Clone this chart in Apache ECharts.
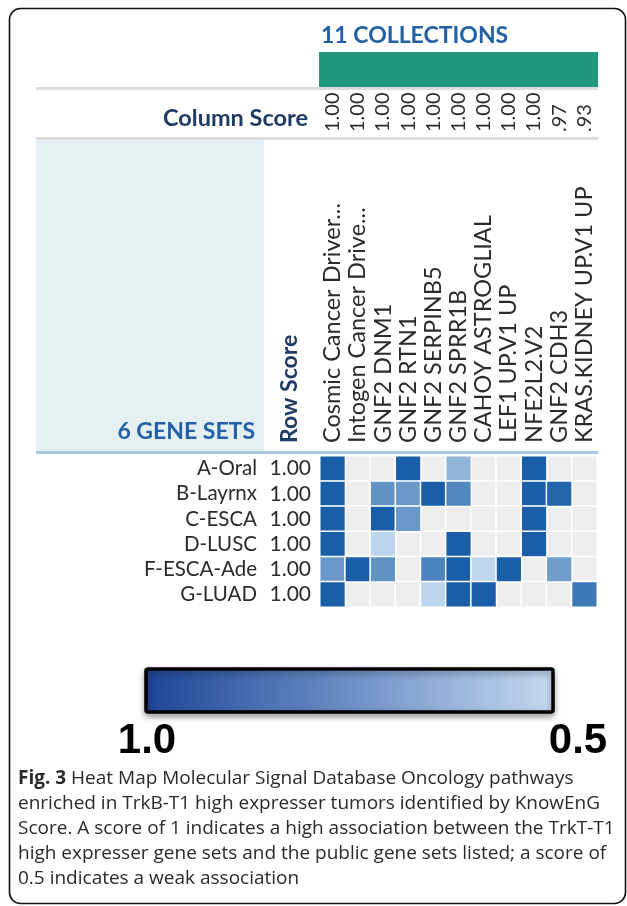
<!DOCTYPE html>
<html>
<head>
<meta charset="utf-8">
<title>Heat Map</title>
<script src="https://cdn.jsdelivr.net/npm/echarts@6/dist/echarts.min.js"></script>
<style>
  html, body { margin: 0; padding: 0; background: #fff; }
  #chart { width: 627px; height: 906px; }
</style>
</head>
<body>
<div id="chart"></div>
<script type="text/javascript">
  // gene sets (rows) and collections (columns)
  var geneSets = ['A-Oral', 'B-Layrnx', 'C-ESCA', 'D-LUSC', 'F-ESCA-Ade', 'G-LUAD'];
  var rowScores = ['1.00', '1.00', '1.00', '1.00', '1.00', '1.00'];
  var collections = ['Cosmic Cancer Driver...', 'Intogen Cancer Drive...', 'GNF2 DNM1', 'GNF2 RTN1',
    'GNF2 SERPINB5', 'GNF2 SPRR1B', 'CAHOY ASTROGLIAL', 'LEF1 UP.V1 UP', 'NFE2L2.V2',
    'GNF2 CDH3', 'KRAS.KIDNEY UP.V1 UP'];
  var colScores = ['1.00', '1.00', '1.00', '1.00', '1.00', '1.00', '1.00', '1.00', '1.00', '.97', '.93'];

  // one array per gene set, null = no association
  var oral    = [1.00, null, null, 1.00, null, 0.65, null, null, 1.00, null, null];
  var layrnx  = [1.00, null, 0.79, 0.77, 1.00, 0.84, null, null, 1.00, 0.97, null];
  var esca    = [1.00, null, 1.00, 0.77, null, null, null, null, 1.00, null, null];
  var lusc    = [1.00, null, 0.53, null, null, 1.00, null, null, 1.00, null, null];
  var escaAde = [0.77, 1.00, 0.79, null, 0.85, 1.00, 0.52, 1.00, null, 0.75, null];
  var luad    = [1.00, null, null, null, 0.53, 1.00, 1.00, null, null, null, 0.90];
  var rows = [oral, layrnx, esca, lusc, escaAde, luad];

  var cells = [], blank = [];
  rows.forEach(function (r, y) {
    r.forEach(function (v, x) {
      blank.push([x, y, 0]);
      if (v !== null) cells.push([x, y, v]);
    });
  });

  var myChart = echarts.init(document.getElementById('chart'), null, { renderer: 'canvas' });

  var navy = '#1f3b63';
  var blue = '#2360a5';
  var captionFont = '"Open Sans", sans-serif';
  var caption = [
    ' Heat Map Molecular Signal Database Oncology pathways',
    'enriched in TrkB-T1 high expresser tumors identified by KnowEnG',
    'Score. A score of 1 indicates a high association between the TrkT-T1',
    'high expresser gene sets and the public gene sets listed; a score of',
    '0.5 indicates a weak association'
  ];

  var graphics = [
    // outer frame
    { type: 'rect', z: 0, shape: { x: 9.5, y: 8.5, width: 616, height: 895, r: 11 },
      style: { fill: null, stroke: '#111', lineWidth: 1.6 } },
    // header pieces
    { type: 'rect', shape: { x: 319, y: 52, width: 279, height: 35 }, style: { fill: '#21977d' } },
    { type: 'rect', shape: { x: 36, y: 87, width: 562, height: 3 }, style: { fill: '#dcdcdc' } },
    { type: 'rect', shape: { x: 36, y: 137, width: 562, height: 3 }, style: { fill: '#dcdcdc' } },
    { type: 'rect', z: -1, shape: { x: 36, y: 140, width: 228, height: 312 }, style: { fill: '#e4f0f1' } },
    { type: 'rect', shape: { x: 36, y: 451, width: 562, height: 3 }, style: { fill: '#a9c6e3' } },
    { type: 'text', x: 321, y: 36, style: { text: '11 COLLECTIONS', font: 'bold 23px Lato', fill: blue,
      textAlign: 'left', textVerticalAlign: 'middle' } },
    { type: 'text', x: 308, y: 118, style: { text: 'Column Score', font: 'bold 23.5px Lato', fill: navy,
      textAlign: 'right', textVerticalAlign: 'middle' } },
    { type: 'text', x: 255, y: 432, style: { text: '6 GENE SETS', font: 'bold 23px Lato', fill: blue,
      textAlign: 'right', textVerticalAlign: 'middle' } },
    { type: 'text', x: 290, y: 443, rotation: Math.PI / 2, style: { text: 'Row Score', font: 'bold 23px Lato',
      fill: navy, textAlign: 'left', textVerticalAlign: 'middle' } },
    // colour bar
    { type: 'rect', shape: { x: 146, y: 669, width: 407, height: 43, r: 2 },
      style: { fill: new echarts.graphic.LinearGradient(0, 0, 1, 0, [
        { offset: 0, color: '#1d4596' }, { offset: 0.5, color: '#6d8fc6' }, { offset: 1, color: '#c6d9f0' }]),
        stroke: '#000', lineWidth: 3.5, shadowBlur: 6, shadowOffsetY: 3, shadowColor: 'rgba(0,0,0,0.35)' } },
    { type: 'text', x: 147, y: 741, style: { text: '1.0', font: 'bold 42px "Liberation Sans"', fill: '#000',
      textAlign: 'center', textVerticalAlign: 'middle' } },
    { type: 'text', x: 578, y: 741, style: { text: '0.5', font: 'bold 42px "Liberation Sans"', fill: '#000',
      textAlign: 'center', textVerticalAlign: 'middle' } }
  ];
  caption.forEach(function (line, i) {
    graphics.push({ type: 'text', x: 18, y: 779 + i * 25, style: {
      text: (i === 0 ? '{b|Fig. 3}' : '') + line,
      font: '19px ' + captionFont, fill: '#2a2a2a', textAlign: 'left', textVerticalAlign: 'middle',
      rich: { b: { fontFamily: captionFont, fontWeight: 'bold', fontSize: 19, fill: '#2a2a2a' } }
    } });
  });

  var option = {
    backgroundColor: '#fff',
    animation: false,
    grid: { left: 320, top: 456, width: 277, height: 151 },
    xAxis: [
      { type: 'category', data: collections, position: 'top', axisLine: { show: false },
        axisTick: { show: false }, splitLine: { show: false },
        axisLabel: { rotate: -90, margin: 13, interval: 0, overflow: 'none', width: 400,
          fontFamily: 'Lato', fontSize: 23.5, color: '#2b2b2b' } },
      { type: 'category', data: colScores, position: 'top', offset: 318, axisLine: { show: false },
        axisTick: { show: false },
        axisLabel: { rotate: -90, margin: 6, interval: 0, overflow: 'none',
          fontFamily: 'Lato', fontSize: 20, color: '#2b2b2b' } }
    ],
    yAxis: {
      type: 'category', data: geneSets, inverse: true, axisLine: { show: false }, axisTick: { show: false },
      axisLabel: {
        margin: 9, interval: 0,
        formatter: function (v, i) { return '{n|' + v + '}{s|' + rowScores[i] + '}'; },
        rich: {
          n: { fontFamily: 'Lato', fontSize: 20.5, color: '#2b2b2b' },
          s: { fontFamily: 'Lato', fontSize: 21, color: '#2b2b2b', width: 43, align: 'right', padding: [0, 0, 0, 11] }
        }
      }
    },
    visualMap: { show: false, seriesIndex: 1, min: 0.5, max: 1, inRange: { color: ['#c6dcf0', '#1a5ea8'] } },
    graphic: graphics,
    series: [
      { type: 'heatmap', data: blank, itemStyle: { color: '#eeeeee', borderColor: '#fff', borderWidth: 1.5 },
        emphasis: { disabled: true } },
      { type: 'heatmap', data: cells, itemStyle: { borderColor: '#fff', borderWidth: 1.5 },
        emphasis: { disabled: true } }
    ]
  };
  myChart.setOption(option);
</script>
</body>
</html>
